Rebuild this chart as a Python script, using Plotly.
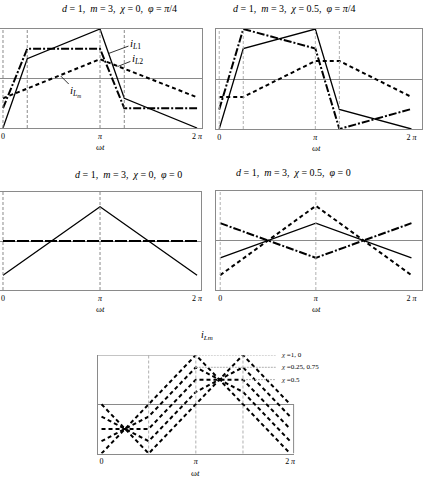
import numpy as np
import plotly.graph_objects as go

PI = np.pi
W, H = 424, 480

# ---------------- data ----------------
x_a = [0, PI / 4, PI, 5 * PI / 4, 2 * PI]
x_b = [0, PI, 2 * PI]
x_c = [0, PI / 2, PI, 3 * PI / 2, 2 * PI]

# Panel 1: d=1, m=3, chi=0, phi=pi/4
p1_iL1 = [-1.0, 0.40, 1.0, -0.40, -1.0]
p1_iL2 = [-0.60, 0.60, 0.60, -0.60, -0.60]
p1_iLm = [-0.40, 0.39, -0.38]          # on x_b

# Panel 2: d=1, m=3, chi=0.5, phi=pi/4
p2_iL1 = [-1.0, 0.61, 1.0, -0.61, -1.0]
p2_iL2 = [-0.61, 1.0, 0.61, -1.0, -0.60]
p2_iLm = [-0.36, -0.36, 0.36, 0.36, -0.36]

# Panel 3: d=1, m=3, chi=0, phi=0
p3_iL1 = [-0.70, 0.70, -0.70]
p3_iL2 = [0.0, 0.0, 0.0]
p3_iLm = [0.0, 0.0, 0.0]

# Panel 4: d=1, m=3, chi=0.5, phi=0
p4_iL1 = [-0.35, 0.35, -0.35]
p4_iL2 = [0.35, -0.35, 0.35]
p4_iLm = [-0.70, 0.70, -0.70]

# Panel 5: i_Lm for several chi
chi_curves = {
    "1": [-1.0, 0.0, 1.0, 0.0, -1.0],
    "0": [0.0, -1.0, 0.0, 1.0, 0.0],
    "0.25": [-0.25, -0.75, 0.25, 0.75, -0.25],
    "0.5": [-0.5, -0.5, 0.5, 0.5, -0.5],
    "0.75": [-0.75, -0.25, 0.75, 0.25, -0.75],
}
chi_labels = ["<i>χ</i> =1, 0", "<i>χ</i> =0.25, 0.75", "<i>χ</i> =0.5"]
chi_levels = [1.0, 0.75, 0.5]
chi_leader_start = [PI, PI, 3 * PI / 2]

tick_vals = [0, PI, 2 * PI]
tick_text = ["0", "<i>π</i>", "2 <i>π</i>"]

SP = "&nbsp;"
EQ = f"{SP}={SP}"
titles = [
    f"<i>d</i>{EQ}1,{SP}{SP}<i>m</i>{EQ}3,{SP}{SP}<i>χ</i>{EQ}0,{SP}{SP}<i>φ</i>{EQ}<i>π</i>/4",
    f"<i>d</i>{EQ}1,{SP}{SP}<i>m</i>{EQ}3,{SP}{SP}<i>χ</i>{EQ}0.5,{SP}{SP}<i>φ</i>{EQ}<i>π</i>/4",
    f"<i>d</i>{EQ}1,{SP}{SP}<i>m</i>{EQ}3,{SP}{SP}<i>χ</i>{EQ}0,{SP}{SP}<i>φ</i>{EQ}0",
    f"<i>d</i>{EQ}1,{SP}{SP}<i>m</i>{EQ}3,{SP}{SP}<i>χ</i>{EQ}0.5,{SP}{SP}<i>φ</i>{EQ}0",
]

vlines = [
    [0, PI / 4, PI, 5 * PI / 4],
    [0, PI / 4, PI, 5 * PI / 4],
    [0, PI],
    [0, PI],
    [PI / 2, PI, 3 * PI / 2],
]

# ---------------- layout geometry (pixels) ----------------
# frame left, top, right, bottom ; pixel of x=0 ; pixel of x=2pi
panels = [
    dict(f=(0, 29, 203, 128), z0=3, z2=198),
    dict(f=(217, 29, 426, 129), z0=220.3, z2=415.3),
    dict(f=(0, 192, 202, 290), z0=3, z2=198),
    dict(f=(217, 191, 426, 290), z0=221.3, z2=415.3),
    dict(f=(98, 355, 295, 453.5), z0=102, z2=291.5),
]

SERIF = "Liberation Serif"
GRAY = "#8a8a8a"
LGRAY = "#b0b0b0"

fig = go.Figure()
layout = dict(width=W, height=H, margin=dict(l=0, r=0, t=0, b=0),
              paper_bgcolor="white", plot_bgcolor="white", showlegend=False)

shapes = []
annotations = []

for i, p in enumerate(panels, start=1):
    l, t, r, b = p["f"]
    s = 2 * PI / (p["z2"] - p["z0"])
    xr = [(l - p["z0"]) * s, (r - p["z0"]) * s]
    mirror = i != 5
    layout[f"xaxis{i}" if i > 1 else "xaxis"] = dict(
        domain=[l / W, min(r / W, 1)], range=xr, anchor=f"y{i}" if i > 1 else "y",
        showline=True, mirror=mirror, linecolor=GRAY, linewidth=1,
        showgrid=False, zeroline=False, ticks="",
        tickvals=tick_vals, ticktext=tick_text,
        tickfont=dict(family=SERIF, size=8, color="black"), fixedrange=True,
    )
    layout[f"yaxis{i}" if i > 1 else "yaxis"] = dict(
        domain=[1 - b / H, 1 - t / H], range=[-1, 1], anchor=f"x{i}" if i > 1 else "x",
        showline=True, mirror=mirror, linecolor=GRAY, linewidth=1,
        showgrid=False, zeroline=True, zerolinecolor=GRAY, zerolinewidth=1,
        showticklabels=False, ticks="", fixedrange=True,
    )
    xref = f"x{i}" if i > 1 else "x"
    yref = f"y{i}" if i > 1 else "y"
    for v in vlines[i - 1]:
        shapes.append(dict(type="line", xref=xref, yref=f"{yref} domain",
                           x0=v, x1=v, y0=0, y1=1,
                           line=dict(color=LGRAY if i in (2, 4, 5) else GRAY,
                                     width=1, dash="3px,2px")))
    # axis title
    cx = (p["z0"] + p["z2"]) / 2
    annotations.append(dict(text="ω<i>t</i>", xref="paper", yref="paper",
                            x=cx / W, y=1 - (b + 19) / H, xanchor="center", yanchor="middle",
                            showarrow=False,
                            font=dict(family=SERIF, size=9, color="black")))

# panel titles
title_pos = [(120, 8), (296, 8), (129, 175), (295, 173)]
for txt, (px, py) in zip(titles, title_pos):
    annotations.append(dict(text=txt, xref="paper", yref="paper", x=px / W, y=1 - py / H,
                            xanchor="center", yanchor="middle",
                            showarrow=False, font=dict(family=SERIF, size=10, color="black")))
annotations.append(dict(text="<i>i</i><sub><i>Lm</i></sub>", xref="paper", yref="paper",
                        x=208 / W, y=1 - 335 / H, xanchor="center", yanchor="middle",
                        showarrow=False,
                        font=dict(family=SERIF, size=10, color="black")))

SOLID = dict(color="black", width=1.3)
DASH = dict(color="black", width=2, dash="4px,3px")
DASHDOT = dict(color="black", width=2, dash="8px,2px,2px,2px")


def add(x, y, line, ax):
    fig.add_trace(go.Scatter(x=x, y=y, mode="lines", line=line,
                             xaxis="x" if ax == 1 else f"x{ax}",
                             yaxis="y" if ax == 1 else f"y{ax}",
                             hoverinfo="skip"))


add(x_a, p1_iL1, SOLID, 1)
add(x_a, p1_iL2, DASHDOT, 1)
add(x_b, p1_iLm, DASH, 1)

add(x_a, p2_iL1, SOLID, 2)
add(x_a, p2_iL2, DASHDOT, 2)
add(x_a, p2_iLm, DASH, 2)

add(x_b, p3_iL1, SOLID, 3)
add(x_b, p3_iLm, DASH, 3)
add(x_b, p3_iL2, DASHDOT, 3)

add(x_b, p4_iL1, SOLID, 4)
add(x_b, p4_iL2, DASHDOT, 4)
add(x_b, p4_iLm, DASH, 4)

for k, ys in chi_curves.items():
    add(x_c, ys, dict(color="black", width=2, dash="4px,3px"), 5)

# panel 1 curve labels
lab_font = dict(family=SERIF, size=11, color="black")
for txt, tx, ty, ax, ay in [
    ("<i>i</i><sub><i>L</i>1</sub>", 3.415, 0.505, 27, -10),
    ("<i>i</i><sub><i>L</i>2</sub>", 3.705, 0.24, 20, -8),
    ("<i>i</i><sub><i>L<sub>m</sub></i></sub>", 1.869, 0.05, 15, 15),
]:
    annotations.append(dict(text=txt, x=tx, y=ty, xref="x", yref="y", showarrow=True,
                            arrowhead=0, arrowwidth=0.8, arrowcolor="black",
                            ax=ax, ay=ay, standoff=0, font=lab_font))

# panel 5 partial frame, leader lines and chi labels
p5 = panels[4]
s5 = 2 * PI / (p5["z2"] - p5["z0"])
x5_left = (p5["f"][0] - p5["z0"]) * s5
x5_lab = (277 - p5["z0"]) * s5
shapes.append(dict(type="line", xref="x5", yref="y5", x0=x5_left, x1=PI, y0=1, y1=1,
                   line=dict(color=GRAY, width=1)))
shapes.append(dict(type="line", xref="x5 domain", yref="y5", x0=1, x1=1, y0=-1, y1=0,
                   line=dict(color=GRAY, width=1)))
for lev, xs, txt in zip(chi_levels, chi_leader_start, chi_labels):
    shapes.append(dict(type="line", xref="x5", yref="y5", x0=xs, x1=x5_lab, y0=lev, y1=lev,
                       line=dict(color=LGRAY, width=1, dash="2px,1px")))
    annotations.append(dict(text=txt, xref="paper", yref="y5", x=280 / W, y=lev,
                            xanchor="left", yanchor="middle", showarrow=False,
                            font=dict(family=SERIF, size=7, color="black")))

layout["shapes"] = shapes
layout["annotations"] = annotations
fig.update_layout(**layout)
fig.write_html("out.html")
